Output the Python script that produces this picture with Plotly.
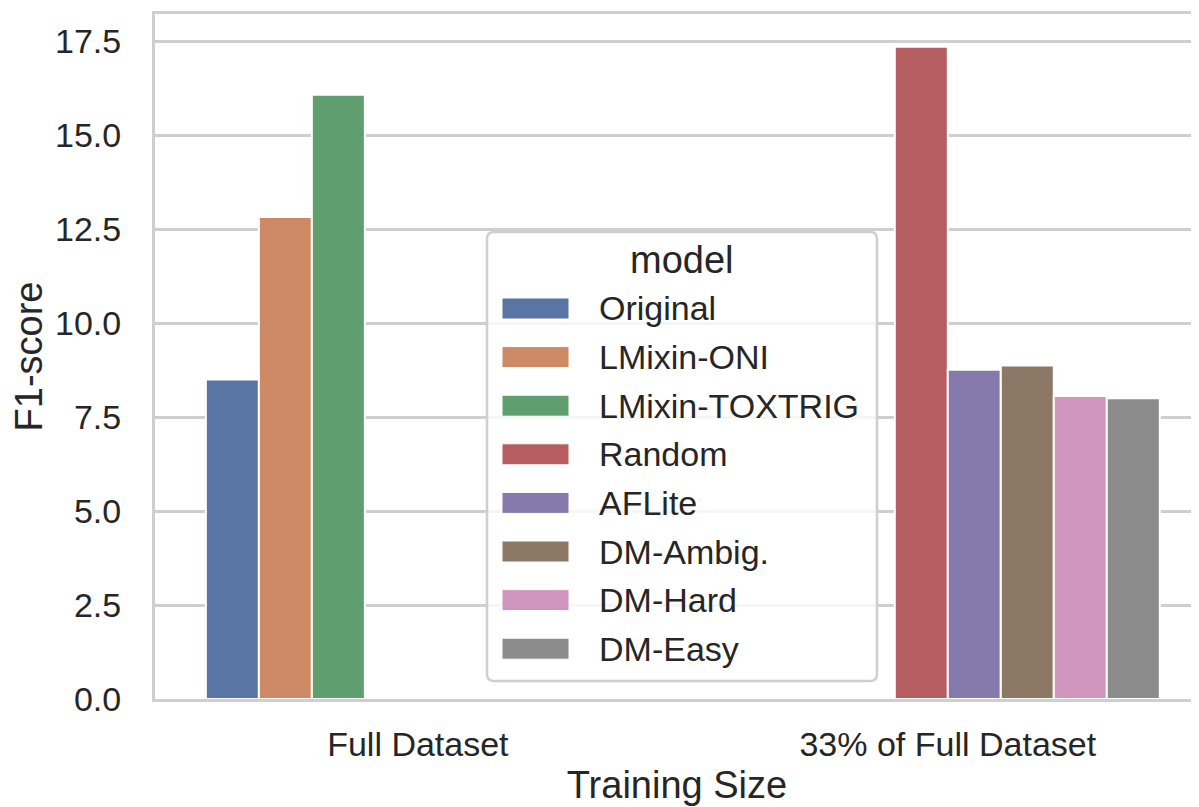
import plotly.graph_objects as go

categories = ["Full Dataset", "33% of Full Dataset"]
models = ["Original", "LMixin-ONI", "LMixin-TOXTRIG", "Random", "AFLite",
          "DM-Ambig.", "DM-Hard", "DM-Easy"]
full_scores = [8.5, 12.82, 16.07, None, None, None, None, None]
small_scores = [None, None, None, 17.35, 8.76, 8.87, 8.06, 8.0]
colors = ["#5975A4", "#CC8963", "#5F9E6E", "#B55D60", "#857AAB",
          "#8D7866", "#D095BF", "#8C8C8C"]

FONT = "Liberation Sans, Arial, sans-serif"
GRID = "#cfcfcf"
TXT = "#262626"
TICK_SIZE = 34
TITLE_SIZE = 38

# page has an 8px body margin; compensate so the plot area sits at
# x 155..1199, y 14..699 in the window
OFF = 8
W, H = 1199 - OFF, 807 - OFF
PL, PR, PT, PB = 155, 1199, 14, 699
ML, MR, MT, MB = PL - OFF, 0, PT - OFF, H - (PB - OFF)
PW, PH = PR - PL, PB - PT


def px(x):
    return (x - PL) / PW


def py(y):
    return (PB - y) / PH


fig = go.Figure()
for i, m in enumerate(models):
    fig.add_trace(go.Bar(
        name=m, x=categories, y=[full_scores[i], small_scores[i]],
        marker=dict(color=colors[i], line=dict(color="white", width=2)),
        showlegend=False,
    ))

# manual seaborn-style legend
shapes = []
annotations = []
x0, x1, y0, y1, r = px(487), px(877), py(681), py(232), 7
rx, ry = r / PW, r / PH
path = (f"M{x0+rx},{y0} L{x1-rx},{y0} Q{x1},{y0} {x1},{y0+ry} "
        f"L{x1},{y1-ry} Q{x1},{y1} {x1-rx},{y1} L{x0+rx},{y1} "
        f"Q{x0},{y1} {x0},{y1-ry} L{x0},{y0+ry} Q{x0},{y0} {x0+rx},{y0} Z")
shapes.append(dict(type="path", path=path, xref="paper", yref="paper",
                   fillcolor="rgba(255,255,255,0.8)",
                   line=dict(color=GRID, width=2.5), layer="above"))
annotations.append(dict(text="model", x=px(682), y=py(260), xref="paper", yref="paper",
                        showarrow=False, xanchor="center", yanchor="middle",
                        font=dict(size=TITLE_SIZE, color=TXT)))
for i, m in enumerate(models):
    cy = 308.5 + i * 48.6
    shapes.append(dict(type="rect", xref="paper", yref="paper",
                       x0=px(502), x1=px(569), y0=py(cy + 10.5), y1=py(cy - 10.5),
                       fillcolor=colors[i], line=dict(color="white", width=1),
                       layer="above"))
    annotations.append(dict(text=m, x=px(597), y=py(cy), xref="paper", yref="paper",
                            showarrow=False, xanchor="left", yanchor="middle",
                            font=dict(size=TICK_SIZE, color=TXT)))

fig.update_layout(
    width=W, height=H,
    margin=dict(l=ML, r=MR, t=MT, b=MB),
    paper_bgcolor="white", plot_bgcolor="white",
    barmode="group", bargap=0.2, bargroupgap=0,
    font=dict(family=FONT, size=TICK_SIZE, color=TXT),
    showlegend=False,
    shapes=shapes, annotations=annotations,
    xaxis=dict(
        type="category", range=[-0.496, 1.474], automargin=False,
        showline=True, linecolor=GRID, linewidth=3, mirror=True,
        showgrid=False, ticks="", ticklen=0, ticklabelstandoff=13,
        tickfont=dict(size=TICK_SIZE, color=TXT),
        title=dict(text="Training Size", font=dict(size=TITLE_SIZE, color=TXT), standoff=10),
    ),
    yaxis=dict(
        range=[0, 18.22], tickvals=[0, 2.5, 5, 7.5, 10, 12.5, 15, 17.5],
        tickformat=".1f", automargin=False,
        showline=True, linecolor=GRID, linewidth=3,
        showgrid=True, gridcolor=GRID, gridwidth=2.5,
        zeroline=False, ticks="", ticklen=0, ticklabelstandoff=24,
        tickfont=dict(size=TICK_SIZE, color=TXT),
        title=dict(text="F1-score", font=dict(size=TITLE_SIZE, color=TXT), standoff=6),
    ),
)

fig.write_html("out.html")
